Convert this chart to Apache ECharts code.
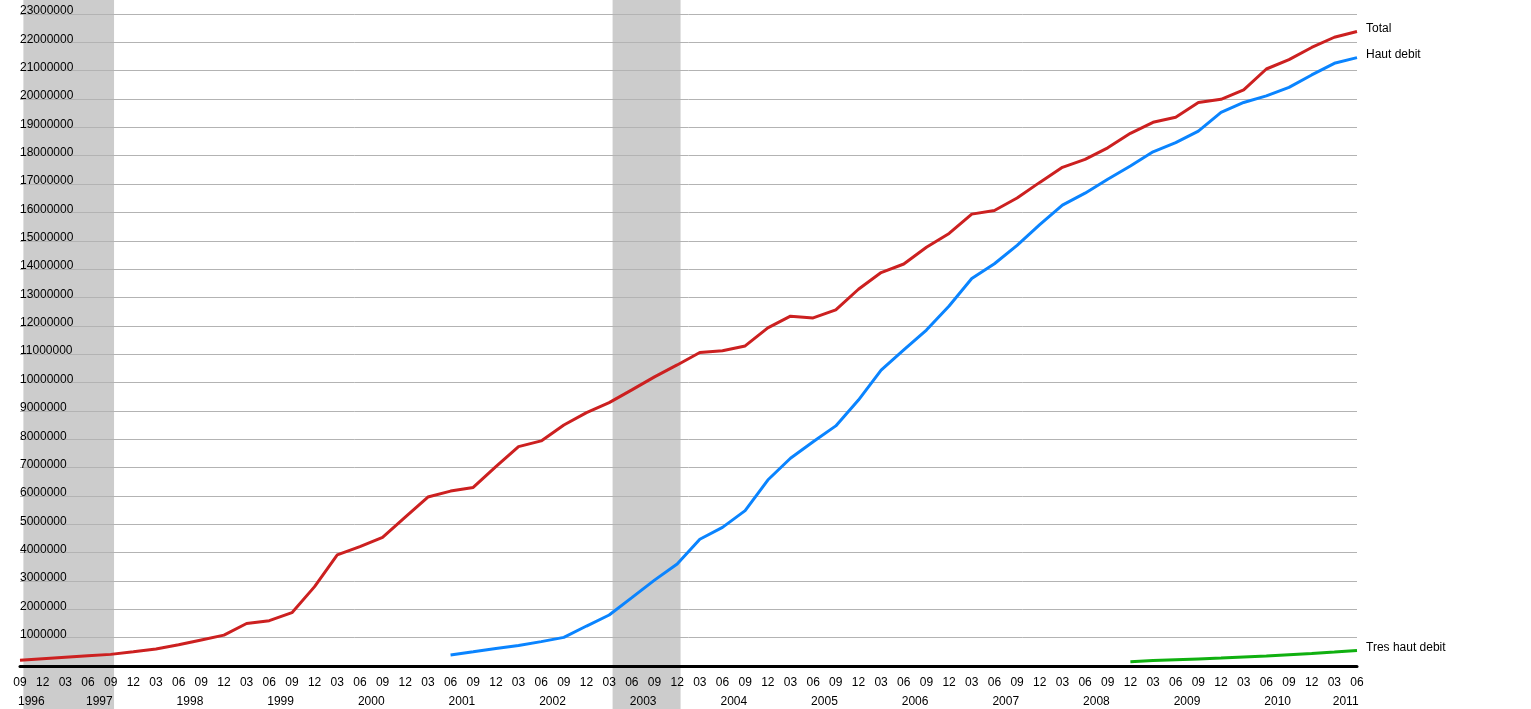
<!DOCTYPE html>
<html>
<head>
<meta charset="utf-8">
<script src="https://cdn.jsdelivr.net/npm/echarts@6/dist/echarts.min.js"></script>
<style>
html,body{margin:0;padding:0;background:#fff;}
#chart{width:1531px;height:709px;}
</style>
</head>
<body>
<div id="chart"></div>
<script>
const categories = [
  '1996-09','1996-12',
  '1997-03','1997-06','1997-09','1997-12',
  '1998-03','1998-06','1998-09','1998-12',
  '1999-03','1999-06','1999-09','1999-12',
  '2000-03','2000-06','2000-09','2000-12',
  '2001-03','2001-06','2001-09','2001-12',
  '2002-03','2002-06','2002-09','2002-12',
  '2003-03','2003-06','2003-09','2003-12',
  '2004-03','2004-06','2004-09','2004-12',
  '2005-03','2005-06','2005-09','2005-12',
  '2006-03','2006-06','2006-09','2006-12',
  '2007-03','2007-06','2007-09','2007-12',
  '2008-03','2008-06','2008-09','2008-12',
  '2009-03','2009-06','2009-09','2009-12',
  '2010-03','2010-06','2010-09','2010-12',
  '2011-03','2011-06'
];

const total = [
  200000,260000,310000,360000,410000,500000,600000,750000,920000,1090000,
  1500000,1600000,1880000,2800000,3920000,4210000,4540000,5250000,5960000,6170000,
  6300000,7030000,7740000,7940000,8500000,8940000,9290000,9740000,10200000,10620000,
  11060000,11120000,11290000,11930000,12340000,12280000,12560000,13290000,13880000,14180000,
  14770000,15260000,15940000,16070000,16510000,17060000,17590000,17870000,18280000,18790000,
  19180000,19360000,19880000,19990000,20320000,21060000,21390000,21820000,22180000,22380000
];

const hautDebit = [
  null,null,null,null,null,null,null,null,null,null,
  null,null,null,null,null,null,null,null,null,
  390000,500000,620000,720000,860000,1010000,1410000,1800000,2410000,3030000,3600000,
  4470000,4890000,5480000,6560000,7330000,7910000,8470000,9380000,10440000,
  11150000,11850000,12700000,13670000,14190000,14840000,15570000,16260000,16680000,17170000,17640000,
  18140000,18460000,18870000,19530000,19880000,20110000,20410000,20850000,21260000,21460000
];

const tresHautDebit = [
  null,null,null,null,null,null,null,null,null,null,
  null,null,null,null,null,null,null,null,null,null,
  null,null,null,null,null,null,null,null,null,null,
  null,null,null,null,null,null,null,null,null,null,
  null,null,null,null,null,null,null,null,null,
  150000,190000,220000,250000,280000,320000,350000,400000,440000,490000,550000
];

const seriesNames = ['Total', 'Haut debit', 'Tres haut debit'];

// shaded periods, in category-index units
const bandStart = [0.15, 26.15];
const bandEnd = [4.15, 29.15];

// year labels centred on the quarters of each year (derived from categories)
const yearPos = {};
(function () {
  const acc = {};
  categories.forEach(function (c, i) {
    const y = c.slice(0, 4);
    if (!acc[y]) acc[y] = [];
    acc[y].push(i);
  });
  Object.keys(acc).forEach(function (y) {
    const a = acc[y];
    const mid = (a[0] + a[a.length - 1]) / 2;
    yearPos[Math.round(mid * 2)] = y;
  });
})();

const font = "'Liberation Sans', Arial, sans-serif";
const chart = echarts.init(document.getElementById('chart'));

const bands = bandStart.map(function (s, i) { return [s, bandEnd[i]]; });

function endLabel() {
  return {
    show: true,
    formatter: '{a}',
    color: '#000',
    fontSize: 12,
    fontFamily: font,
    distance: 9,
    offset: [0, -3]
  };
}

chart.setOption({
  animation: false,
  backgroundColor: '#ffffff',
  textStyle: { fontFamily: font },
  grid: [
    { left: 20, right: 174, top: 14, bottom: 43 },
    { left: 20, right: 174, top: 0, bottom: 0 }
  ],
  xAxis: [
    {
      type: 'category',
      gridIndex: 0,
      data: categories,
      boundaryGap: false,
      z: 1,
      axisLine: { show: true, lineStyle: { color: '#000', width: 3 } },
      axisTick: { show: false },
      splitLine: { show: false },
      axisLabel: {
        interval: 0,
        color: '#000',
        fontSize: 12,
        fontFamily: font,
        margin: 11,
        formatter: function (v) { return v.slice(5); }
      }
    },
    {
      type: 'value',
      gridIndex: 0,
      position: 'bottom',
      min: 0,
      max: categories.length - 1,
      interval: 0.5,
      offset: 19,
      z: 1,
      axisLine: { show: false },
      axisTick: { show: false },
      splitLine: { show: false },
      axisLabel: {
        color: '#000',
        fontSize: 12,
        fontFamily: font,
        margin: 11,
        showMinLabel: true,
        showMaxLabel: true,
        formatter: function (v) {
          const k = Math.round(v * 2);
          return yearPos[k] || '';
        }
      }
    },
    {
      type: 'value',
      gridIndex: 1,
      min: 0,
      max: categories.length - 1,
      show: false
    }
  ],
  yAxis: [
    {
      type: 'value',
      gridIndex: 0,
      min: 0,
      max: 23000000,
      interval: 1000000,
      z: 1,
      axisLine: { show: false },
      axisTick: { show: false },
      splitLine: { show: true, lineStyle: { color: '#b3b3b3', width: 1 } },
      axisLabel: {
        inside: true,
        margin: 0,
        align: 'left',
        verticalAlign: 'bottom',
        lineHeight: 6,
        color: '#000',
        fontSize: 12,
        fontFamily: font,
        formatter: function (v) { return v === 0 ? '' : String(v); }
      }
    },
    {
      type: 'value',
      gridIndex: 1,
      min: 0,
      max: 1,
      show: false
    }
  ],
  series: [
    {
      type: 'custom',
      xAxisIndex: 2,
      yAxisIndex: 1,
      z: 0,
      silent: true,
      data: bands,
      renderItem: function (params, api) {
        const p1 = api.coord([api.value(0), 1]);
        const p2 = api.coord([api.value(1), 0]);
        return {
          type: 'rect',
          shape: { x: p1[0], y: p1[1], width: p2[0] - p1[0], height: p2[1] - p1[1] },
          style: { fill: '#cccccc' }
        };
      }
    },
    {
      name: seriesNames[0],
      type: 'line',
      xAxisIndex: 0,
      yAxisIndex: 0,
      z: 3,
      data: total,
      showSymbol: false,
      symbol: 'none',
      lineStyle: { color: '#cc2020', width: 3 },
      itemStyle: { color: '#cc2020' },
      endLabel: endLabel()
    },
    {
      name: seriesNames[1],
      type: 'line',
      xAxisIndex: 0,
      yAxisIndex: 0,
      z: 3,
      data: hautDebit,
      showSymbol: false,
      symbol: 'none',
      lineStyle: { color: '#0a84ff', width: 3 },
      itemStyle: { color: '#0a84ff' },
      endLabel: endLabel()
    },
    {
      name: seriesNames[2],
      type: 'line',
      xAxisIndex: 0,
      yAxisIndex: 0,
      z: 3,
      data: tresHautDebit,
      showSymbol: false,
      symbol: 'none',
      lineStyle: { color: '#10b010', width: 3 },
      itemStyle: { color: '#10b010' },
      endLabel: endLabel()
    }
  ]
});
</script>
</body>
</html>
